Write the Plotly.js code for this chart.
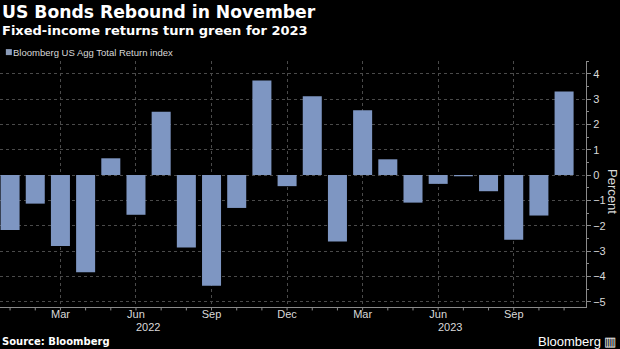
<!DOCTYPE html>
<html>
<head>
<meta charset="utf-8">
<script src="https://cdn.plot.ly/plotly-3.0.1.min.js"></script>
<style>
html,body{margin:0;padding:0;background:#000;}
#chart{width:620px;height:349px;}
</style>
</head>
<body>
<div id="chart"></div>
<script>
const months = ["2022-01","2022-02","2022-03","2022-04","2022-05","2022-06","2022-07","2022-08","2022-09","2022-10","2022-11","2022-12",
                "2023-01","2023-02","2023-03","2023-04","2023-05","2023-06","2023-07","2023-08","2023-09","2023-10","2023-11"];
const returns = [-2.17,-1.13,-2.8,-3.84,0.66,-1.57,2.5,-2.86,-4.37,-1.3,3.73,-0.44,
                 3.11,-2.62,2.56,0.62,-1.09,-0.35,-0.05,-0.64,-2.56,-1.6,3.3];
const tickMonths = ["2022-03","2022-06","2022-09","2022-12","2023-03","2023-06","2023-09"];
const tickLabels = ["Mar","Jun","Sep","Dec","Mar","Jun","Sep"];
const years = ["2022","2023"];
const yearCenters = ["2022-06","2023-06"];
const seriesName = "Bloomberg US Agg Total Return index";

const barColor = "#7e96c2";
const txt = "#d9d9d9";
const font = "Liberation Sans, Arial, sans-serif";

const shapes = [];
// month ticks under the x axis
months.forEach(m => {
  shapes.push({type:"line", xref:"x", yref:"paper", x0:m, x1:m, y0:0, y1:-0.014,
    line:{color:"#8a8a8a", width:1}});
});
// legend swatch
shapes.push({type:"rect", xref:"paper", yref:"paper", xsizemode:"pixel", ysizemode:"pixel",
  xanchor:0.01, yanchor:1.024, x0:0, x1:6, y0:0, y1:6, fillcolor:"#8a9bb8", line:{width:0}});

const annotations = [
  {text:"<b>US Bonds Rebound in November</b>", xref:"paper", yref:"paper", x:0, y:1.2,
   xanchor:"left", yanchor:"middle", showarrow:false, font:{family:"DejaVu Sans", size:17.2, color:"#fff"}},
  {text:"<b>Fixed-income returns turn green for 2023</b>", xref:"paper", yref:"paper", x:0, y:1.122,
   xanchor:"left", yanchor:"middle", showarrow:false, font:{family:"DejaVu Sans", size:13, color:"#fff"}},
  {text:seriesName, xref:"paper", yref:"paper", x:0.019, y:1.034,
   xanchor:"left", yanchor:"middle", showarrow:false, font:{family:font, size:9.5, color:txt}},
  {text:"Percent", xref:"paper", yref:"paper", x:1.045, y:0.47, textangle:90,
   xanchor:"center", yanchor:"middle", showarrow:false, font:{family:font, size:13, color:txt}},
  {text:"<b>Source: Bloomberg</b>", xref:"paper", yref:"paper", x:0, y:-0.141,
   xanchor:"left", yanchor:"middle", showarrow:false, font:{family:"DejaVu Sans", size:10, color:"#fff"}},
  {text:"Bloomberg ▥", xref:"paper", yref:"paper", x:1.055, y:-0.141,
   xanchor:"right", yanchor:"middle", showarrow:false, font:{family:font, size:13, color:"#fff"}}
];
years.forEach((y,i) => {
  annotations.push({text:y, xref:"x", yref:"paper", x:yearCenters[i], xshift:12, y:-0.0825,
    xanchor:"center", yanchor:"middle", showarrow:false, font:{family:font, size:11, color:txt}});
});

const data = [{
  type:"bar", x:months, y:returns, name:seriesName,
  marker:{color:barColor, line:{width:0}}, hoverinfo:"x+y"
}];

const layout = {
  width:620, height:349,
  paper_bgcolor:"#000", plot_bgcolor:"#000",
  margin:{l:0, r:34, t:61, b:42},
  showlegend:false,
  bargap:0.245,
  xaxis:{
    type:"category", range:[-0.4, 22.87],
    tickmode:"array", tickvals:tickMonths, ticktext:tickLabels,
    showgrid:true, gridcolor:"#4a4a4a", griddash:"dot", gridwidth:1,
    showline:true, linecolor:"#8a8a8a", linewidth:1,
    ticks:"", ticklabelstandoff:-3, tickfont:{family:font, size:11, color:txt},
    zeroline:false, fixedrange:true
  },
  yaxis:{
    side:"right", range:[-5.21, 4.5],
    tickmode:"linear", tick0:0, dtick:1,
    showgrid:true, gridcolor:"#4a4a4a", griddash:"dot", gridwidth:1,
    showline:true, linecolor:"#8a8a8a", linewidth:1,
    ticks:"outside", ticklen:4, tickcolor:"#8a8a8a",
    minor:{dtick:0.5, ticks:"outside", ticklen:2, tickcolor:"#8a8a8a", showgrid:false},
    tickfont:{family:font, size:11, color:txt},
    zeroline:false, fixedrange:true
  },
  shapes:shapes,
  annotations:annotations
};

Plotly.newPlot("chart", data, layout, {displayModeBar:false, staticPlot:true});
</script>
</body>
</html>
